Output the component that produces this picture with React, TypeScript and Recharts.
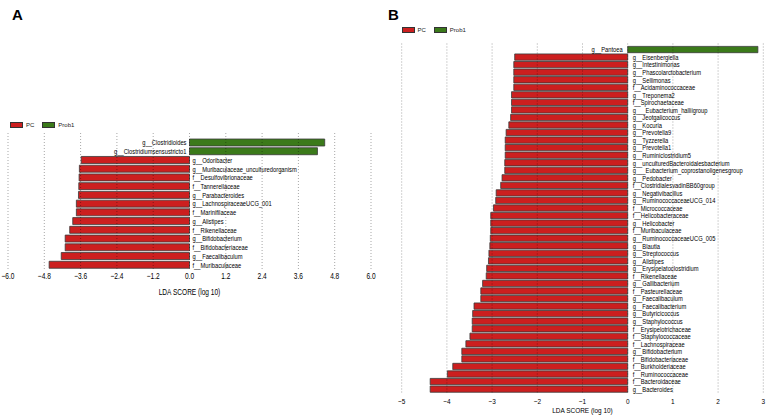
import React from 'react';
import { BarChart, Bar, XAxis, YAxis, Cell, LabelList, ReferenceLine } from 'recharts';

const GROUPS = ['PC', 'Prob1'];
const GROUP_COLORS = ['#cc1f1f', '#3b7a1a'];

const A_NAMES = [
  'g__Clostridioides',
  'g__Clostridiumsensustricto1',
  'g__Odoribacter',
  'g__Muribaculaceae_unculturedorganism',
  'f__Desulfovibrionaceae',
  'f__Tannerellaceae',
  'g__Parabacteroides',
  'g__LachnospiraceaeUCG_001',
  'f__Marinifilaceae',
  'g__Alistipes',
  'f__Rikenellaceae',
  'g__Bifidobacterium',
  'f__Bifidobacteriaceae',
  'g__Faecalibaculum',
  'f__Muribaculaceae',
];
const A_VALUES = [4.47, 4.23, -3.58, -3.64, -3.65, -3.66, -3.67, -3.74, -3.74, -3.86, -3.96, -4.11, -4.11, -4.24, -4.64];
const A_TICKS = [-6, -4.8, -3.6, -2.4, -1.2, 0, 1.2, 2.4, 3.6, 4.8, 6];

const B_NAMES = [
  'g__Pantoea',
  'g__Eisenbergiella',
  'g__Intestinimonas',
  'g__Phascolarctobacterium',
  'g__Sellimonas',
  'f__Acidaminococcaceae',
  'g__Treponema2',
  'f__Spirochaetaceae',
  'g___Eubacterium_halliigroup',
  'g__Jeotgalicoccus',
  'g__Kocuria',
  'g__Prevotella9',
  'g__Tyzzerella',
  'g__Prevotella1',
  'g__Ruminiclostridium5',
  'g__unculturedBacteroidalesbacterium',
  'g___Eubacterium_coprostanoligenesgroup',
  'g__Pedobacter',
  'f__ClostridialesvadinBB60group',
  'g__Negativibacillus',
  'g__RuminococcaceaeUCG_014',
  'f__Micrococcaceae',
  'f__Helicobacteraceae',
  'g__Helicobacter',
  'f__Muribaculaceae',
  'g__RuminococcaceaeUCG_005',
  'g__Blautia',
  'g__Streptococcus',
  'g__Alistipes',
  'g__Erysipelatoclostridium',
  'f__Rikenellaceae',
  'g__Gallibacterium',
  'f__Pasteurellaceae',
  'g__Faecalibaculum',
  'g__Faecalibacterium',
  'g__Butyricicoccus',
  'g__Staphylococcus',
  'f__Erysipelotrichaceae',
  'f__Staphylococcaceae',
  'f__Lachnospiraceae',
  'g__Bifidobacterium',
  'f__Bifidobacteriaceae',
  'f__Burkholderiaceae',
  'f__Ruminococcaceae',
  'f__Bacteroidaceae',
  'g__Bacteroides',
];
const B_VALUES = [
  2.88, -2.5, -2.52, -2.52, -2.52, -2.52, -2.57, -2.57, -2.57, -2.59, -2.63, -2.69, -2.71, -2.71,
  -2.71, -2.72, -2.72, -2.78, -2.81, -2.91, -2.92, -2.97, -3.03, -3.03, -3.03, -3.04, -3.05, -3.07,
  -3.08, -3.12, -3.13, -3.21, -3.25, -3.25, -3.4, -3.43, -3.44, -3.44, -3.49, -3.58, -3.67, -3.67,
  -3.87, -3.99, -4.37, -4.37,
];
const B_TICKS = [-5, -4, -3, -2, -1, 0, 1, 2, 3];

const FONT = '"Liberation Sans", Arial, sans-serif';
const LABEL_SIZE = 7.5;
const LABEL_SQUEEZE = 0.77;
const AXIS_TITLE = 'LDA SCORE (log 10)';
const TEXT_COLOR = '#000';

type AxisFont = { size: number; squeeze: number };
const AXIS_FONT_A: AxisFont = { size: 9, squeeze: 0.73 };
const AXIS_FONT_B: AxisFont = { size: 7.5, squeeze: 0.86 };

const fmtMinus = (s: string) => s.replace('-', '\u2212');

const makeLabel = (data: { name: string; value: number }[], gap: number) => (props: any) => {
  const { x, y, width, height, index } = props;
  const d = data[index];
  if (!d) return null;
  const x0 = Number(x);
  const w = Number(width);
  const pos = d.value >= 0;
  const zero = pos ? Math.min(x0, x0 + w) : Math.max(x0, x0 + w);
  const tx = pos ? zero - gap : zero + gap;
  const ty = Number(y) + Number(height) / 2;
  return (
    <text
      transform={`translate(${tx},${ty}) scale(${LABEL_SQUEEZE},1)`}
      x={0}
      y={0}
      textAnchor={pos ? 'end' : 'start'}
      dominantBaseline="central"
      fontSize={LABEL_SIZE}
      fontFamily={FONT}
      fill={TEXT_COLOR}
    >
      {d.name}
    </text>
  );
};

const makeTick = (fmt: (v: number) => string, margin: number, f: AxisFont) => (props: any) => {
  const { x, y, payload } = props;
  return (
    <text
      transform={`translate(${x},${Number(y) + margin}) scale(${f.squeeze},1)`}
      x={0}
      y={0}
      textAnchor="middle"
      dominantBaseline="central"
      fontSize={f.size}
      fontFamily={FONT}
      fill={TEXT_COLOR}
    >
      {fmt(payload.value)}
    </text>
  );
};

const makeTitle = (offset: number, f: AxisFont) => (props: any) => {
  const vb = props.viewBox || {};
  const cx = Number(vb.x) + Number(vb.width) / 2;
  const by = Number(vb.y) + Number(vb.height) - offset;
  return (
    <text
      transform={`translate(${cx},${by}) scale(${f.squeeze},1)`}
      x={0}
      y={0}
      textAnchor="middle"
      dominantBaseline="central"
      fontSize={f.size}
      fontFamily={FONT}
      fill={TEXT_COLOR}
    >
      {AXIS_TITLE}
    </text>
  );
};

const Legend = ({ left, top }: { left: number; top: number }) => (
  <div style={{ position: 'absolute', left, top, display: 'flex', alignItems: 'center', fontFamily: FONT, fontSize: 6, color: '#222' }}>
    {GROUPS.map((g, i) => (
      <div key={g} style={{ display: 'flex', alignItems: 'center', marginRight: 8 }}>
        <div style={{ width: 11, height: 4.5, background: GROUP_COLORS[i], border: '0.5px solid #333', marginRight: 3 }} />
        <span>{g}</span>
      </div>
    ))}
  </div>
);

const dataA = A_NAMES.map((name, i) => ({ name, value: A_VALUES[i] }));
const dataB = B_NAMES.map((name, i) => ({ name, value: B_VALUES[i] }));

export default function App() {
  return (
    <div style={{ position: 'absolute', left: 0, top: 0, width: 767, height: 415, background: '#fff', overflow: 'hidden' }}>
      <div style={{ position: 'absolute', left: 12, top: 6, fontFamily: FONT, fontWeight: 'bold', fontSize: 15, color: '#000' }}>A</div>
      <div style={{ position: 'absolute', left: 388, top: 6, fontFamily: FONT, fontWeight: 'bold', fontSize: 15, color: '#000' }}>B</div>

      <Legend left={10} top={121.5} />
      <Legend left={401.5} top={26.5} />

      <div style={{ position: 'absolute', left: 0, top: 0 }}>
        <BarChart width={380} height={300} data={dataA} layout="vertical" margin={{ top: 133, right: 9, bottom: 0, left: 8 }} barCategoryGap={1.5}>
          <XAxis
            type="number"
            dataKey="value"
            domain={[-6, 6]}
            ticks={A_TICKS}
            axisLine={false}
            tickLine={false}
            tickSize={0}
            tickMargin={0}
            height={31}
            tick={makeTick((v: number) => fmtMinus(v.toFixed(1)), 7, AXIS_FONT_A)}
            interval={0}
            label={makeTitle(7.5, AXIS_FONT_A)}
          />
          <YAxis type="category" dataKey="name" hide padding={{ top: 5, bottom: 0 }} />
          <Bar dataKey="value" isAnimationActive={false} barSize={7} stroke="#3a3a3a" strokeWidth={0.8}>
            {dataA.map((d, i) => (
              <Cell key={i} fill={d.value >= 0 ? GROUP_COLORS[1] : GROUP_COLORS[0]} />
            ))}
            <LabelList dataKey="name" content={makeLabel(dataA, 3)} />
          </Bar>
          {A_TICKS.map((t) => (
            <ReferenceLine key={t} x={t} stroke="#000" strokeOpacity={0.35} strokeDasharray="1 2" strokeWidth={1} />
          ))}
        </BarChart>
      </div>

      <div style={{ position: 'absolute', left: 390, top: 0 }}>
        <BarChart width={377} height={415} data={dataB} layout="vertical" margin={{ top: 42, right: 3.7, bottom: 0, left: 11.7 }} barCategoryGap={1}>
          <XAxis
            type="number"
            dataKey="value"
            domain={[-5, 3]}
            ticks={B_TICKS}
            axisLine={false}
            tickLine={false}
            tickSize={0}
            tickMargin={0}
            height={22.5}
            tick={makeTick((v: number) => fmtMinus(String(v)), 8.5, AXIS_FONT_B)}
            interval={0}
            label={makeTitle(5, AXIS_FONT_B)}
          />
          <YAxis type="category" dataKey="name" hide padding={{ top: 3.4, bottom: 0 }} />
          <Bar dataKey="value" isAnimationActive={false} barSize={6.3} stroke="#3a3a3a" strokeWidth={0.8}>
            {dataB.map((d, i) => (
              <Cell key={i} fill={d.value >= 0 ? GROUP_COLORS[1] : GROUP_COLORS[0]} />
            ))}
            <LabelList dataKey="name" content={makeLabel(dataB, 5)} />
          </Bar>
          {B_TICKS.map((t) => (
            <ReferenceLine key={t} x={t} stroke="#000" strokeOpacity={0.35} strokeDasharray="1 2" strokeWidth={1} />
          ))}
        </BarChart>
      </div>
    </div>
  );
}
